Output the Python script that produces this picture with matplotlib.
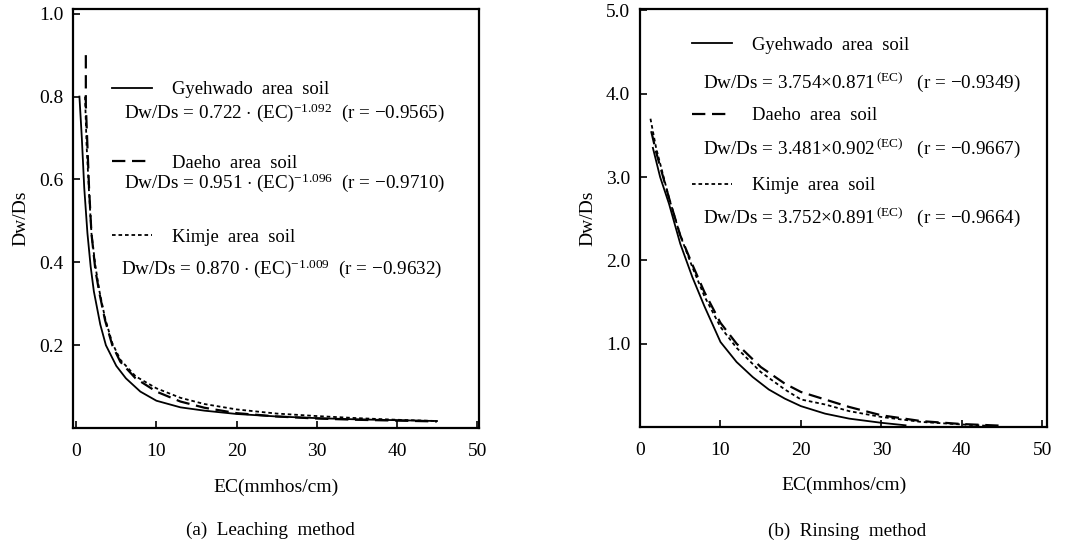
import matplotlib.pyplot as plt
from matplotlib.lines import Line2D

plt.rcParams['font.family'] = ['Liberation Serif', 'DejaVu Serif']
plt.rcParams['mathtext.fontset'] = 'custom'
plt.rcParams['mathtext.rm'] = 'Liberation Serif'
plt.rcParams['mathtext.it'] = 'Liberation Serif:italic'

# (a) Leaching method
lea_gye_x = [0.4, 0.7, 1.0, 1.4, 1.8, 2.2, 3, 3.7, 5, 6.2, 8, 10, 13, 16, 20, 25, 30, 35, 40, 45]
lea_gye_y = [0.80, 0.70, 0.58, 0.47, 0.39, 0.33, 0.25, 0.20, 0.15, 0.12, 0.088, 0.066, 0.05, 0.042, 0.034,
             0.028, 0.024, 0.021, 0.019, 0.017]
lea_dae_x = [1.2, 1.2, 1.4, 1.6, 1.9, 2.4, 2.9, 3.6, 4.5, 5.5, 7.4, 10, 13, 16, 20, 25, 30, 35, 40, 45]
lea_dae_y = [0.90, 0.78, 0.68, 0.58, 0.47, 0.38, 0.325, 0.26, 0.20, 0.16, 0.12, 0.088, 0.064, 0.049, 0.036,
             0.028, 0.023, 0.020, 0.018, 0.016]
lea_kim_x = [1.1, 1.3, 1.6, 1.9, 2.4, 2.9, 3.6, 4.5, 5.5, 7.4, 10, 13, 16, 20, 25, 30, 35, 40, 45]
lea_kim_y = [0.80, 0.68, 0.57, 0.47, 0.39, 0.33, 0.265, 0.205, 0.165, 0.125, 0.096, 0.073, 0.058, 0.045,
             0.035, 0.029, 0.024, 0.020, 0.017]

# (b) Rinsing method
rin_gye_x = [1.6, 2.5, 3.6, 5, 6.5, 8, 10, 12, 14, 16, 18, 20, 23, 26, 30, 33]
rin_gye_y = [3.35, 3.0, 2.68, 2.2, 1.8, 1.45, 1.02, 0.78, 0.60, 0.45, 0.34, 0.25, 0.16, 0.10, 0.05, 0.02]
rin_dae_x = [1.4, 2, 3.6, 5, 6.5, 8, 10, 12, 15, 18, 20, 23, 26, 30, 35, 40, 45]
rin_dae_y = [3.55, 3.3, 2.75, 2.3, 1.95, 1.62, 1.25, 1.0, 0.72, 0.52, 0.42, 0.33, 0.24, 0.14, 0.07, 0.035, 0.015]
rin_kim_x = [1.3, 2, 3.6, 5, 6.5, 8, 10, 12, 15, 18, 20, 23, 26, 30, 35, 40, 43]
rin_kim_y = [3.7, 3.35, 2.75, 2.3, 1.92, 1.57, 1.2, 0.95, 0.66, 0.45, 0.33, 0.27, 0.19, 0.12, 0.06, 0.03, 0.015]

soil_names = ["Gyehwado  area  soil", "Daeho  area  soil", "Kimje  area  soil"]
lea_eqs = [r"Dw/Ds = 0.722 $\cdot$ (EC)$^{-1.092}$  (r = $-$0.9565)",
           r"Dw/Ds = 0.951 $\cdot$ (EC)$^{-1.096}$  (r = $-$0.9710)",
           r"Dw/Ds = 0.870 $\cdot$ (EC)$^{-1.009}$  (r = $-$0.9632)"]
rin_eqs = [r"Dw/Ds = 3.754$\times$0.871$^{\,(\mathrm{EC})}$   (r = $-$0.9349)",
           r"Dw/Ds = 3.481$\times$0.902$^{\,(\mathrm{EC})}$   (r = $-$0.9667)",
           r"Dw/Ds = 3.752$\times$0.891$^{\,(\mathrm{EC})}$   (r = $-$0.9664)"]

styles = [dict(color='black', lw=1.3, linestyle='-'),
          dict(color='black', lw=1.6, linestyle=(0, (6, 3))),
          dict(color='black', lw=1.3, linestyle=(0, (2, 1.6)))]

fig = plt.figure(figsize=(10.8, 5.46), dpi=100)
ax1 = fig.add_axes([0.0676, 0.216, 0.376, 0.768])
ax2 = fig.add_axes([0.5926, 0.218, 0.377, 0.766])

for x, y, st in zip([lea_gye_x, lea_dae_x, lea_kim_x], [lea_gye_y, lea_dae_y, lea_kim_y], styles):
    ax1.plot(x, y, **st)
for x, y, st in zip([rin_gye_x, rin_dae_x, rin_kim_x], [rin_gye_y, rin_dae_y, rin_kim_y], styles):
    ax2.plot(x, y, **st)

ax1.set_xlim(-0.4, 50.25)
ax1.set_ylim(0, 1.012)
ax1.set_yticks([0.2, 0.4, 0.6, 0.8, 1.0])
ax1.set_yticklabels(['0.2', '0.4', '0.6', '0.8', '1.0'])
ax2.set_xlim(0, 50.6)
ax2.set_ylim(0, 5.02)
ax2.set_yticks([1, 2, 3, 4, 5])
ax2.set_yticklabels(['1.0', '2.0', '3.0', '4.0', '5.0'])

for ax in (ax1, ax2):
    ax.set_xticks([0, 10, 20, 30, 40, 50])
    ax.tick_params(direction='in', length=5, width=1.2, labelsize=14)
    ax.tick_params(axis='x', pad=11)
    ax.tick_params(axis='y', pad=7)
    for s in ax.spines.values():
        s.set_linewidth(1.6)
    ax.set_xlabel("EC(mmhos/cm)", fontsize=14)
    ax.set_ylabel("Dw/Ds", fontsize=14)
    ax.xaxis.set_label_coords(0.5, -0.12)
    ax.yaxis.set_label_coords(-0.108, 0.5)

handles = [Line2D([], [], **st) for st in styles]
ax1.legend(handles, soil_names, loc='upper left', bbox_to_anchor=(0.096, 0.827), frameon=False,
           fontsize=13.4, handlelength=2.15, handletextpad=1.05, labelspacing=3.04, borderpad=0, borderaxespad=0)
for eq, (ex, ey) in zip(lea_eqs, [(0.126, 0.751), (0.126, 0.584), (0.118, 0.381)]):
    ax1.text(ex, ey, eq, transform=ax1.transAxes, fontsize=13.8, va='center', ha='left')

ax2.legend(handles, soil_names, loc='upper left', bbox_to_anchor=(0.128, 0.933), frameon=False,
           fontsize=13.4, handlelength=2.15, handletextpad=1.05, labelspacing=2.86, borderpad=0, borderaxespad=0)
for eq, (ex, ey) in zip(rin_eqs, [(0.154, 0.825), (0.154, 0.665), (0.154, 0.502)]):
    ax2.text(ex, ey, eq, transform=ax2.transAxes, fontsize=13.8, va='center', ha='left')

fig.text(0.25, 0.029, "(a)  Leaching  method", fontsize=13.8, ha='center', va='center')
fig.text(0.784, 0.026, "(b)  Rinsing  method", fontsize=13.8, ha='center', va='center')

fig.savefig("out.png", dpi=100)
